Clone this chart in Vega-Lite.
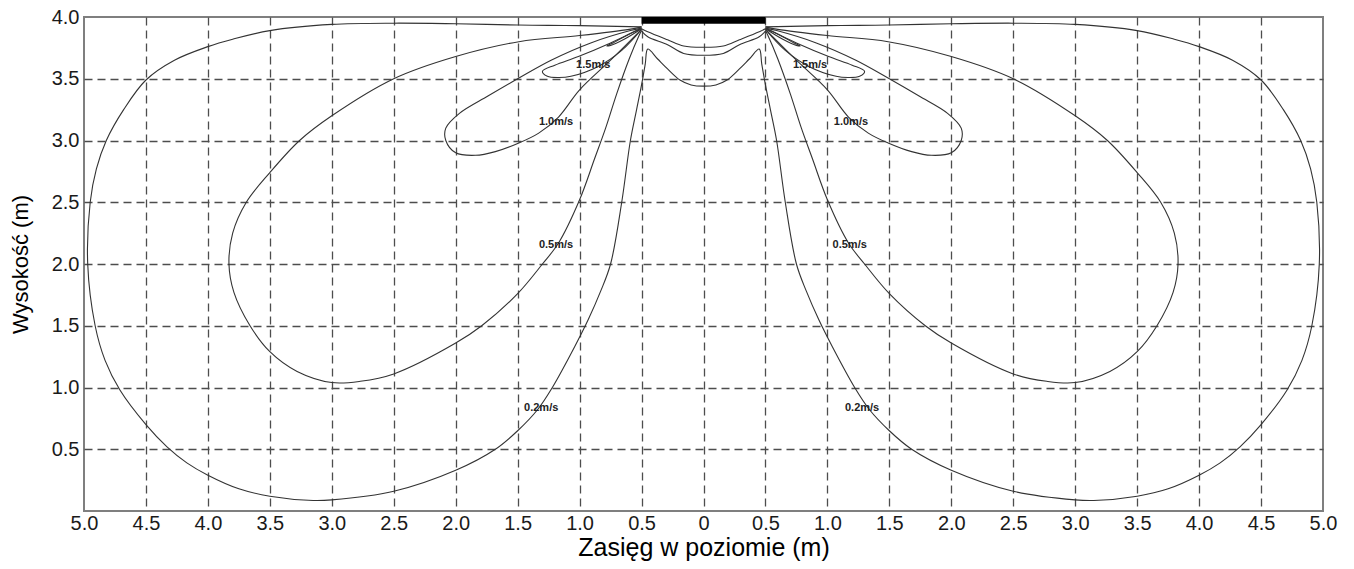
{
  "$schema": "https://vega.github.io/schema/vega-lite/v6.json",
  "width": 1239,
  "height": 494,
  "autosize": {"type": "none"},
  "padding": {"left": 84, "top": 17, "right": 31, "bottom": 58},
  "background": "white",
  "config": {
    "view": {"stroke": "#7f7f7f", "strokeWidth": 2},
    "font": "Liberation Sans"
  },
  "datasets": {
    "lines": [
      {"seg": "0.2", "o": 1, "x": -0.5, "y": 3.92},
      {"seg": "0.2", "o": 2, "x": -1.0, "y": 3.93},
      {"seg": "0.2", "o": 3, "x": -1.5, "y": 3.935},
      {"seg": "0.2", "o": 4, "x": -2.0, "y": 3.945},
      {"seg": "0.2", "o": 5, "x": -2.5, "y": 3.95},
      {"seg": "0.2", "o": 6, "x": -3.0, "y": 3.94},
      {"seg": "0.2", "o": 7, "x": -3.5, "y": 3.89},
      {"seg": "0.2", "o": 8, "x": -3.8, "y": 3.82},
      {"seg": "0.2", "o": 9, "x": -4.0, "y": 3.76},
      {"seg": "0.2", "o": 10, "x": -4.27, "y": 3.65},
      {"seg": "0.2", "o": 11, "x": -4.5, "y": 3.49},
      {"seg": "0.2", "o": 12, "x": -4.68, "y": 3.25},
      {"seg": "0.2", "o": 13, "x": -4.82, "y": 3.0},
      {"seg": "0.2", "o": 14, "x": -4.9, "y": 2.77},
      {"seg": "0.2", "o": 15, "x": -4.95, "y": 2.5},
      {"seg": "0.2", "o": 16, "x": -4.97, "y": 2.0},
      {"seg": "0.2", "o": 17, "x": -4.91, "y": 1.5},
      {"seg": "0.2", "o": 18, "x": -4.83, "y": 1.22},
      {"seg": "0.2", "o": 19, "x": -4.71, "y": 0.98},
      {"seg": "0.2", "o": 20, "x": -4.5, "y": 0.7},
      {"seg": "0.2", "o": 21, "x": -4.33, "y": 0.52},
      {"seg": "0.2", "o": 22, "x": -4.17, "y": 0.39},
      {"seg": "0.2", "o": 23, "x": -4.0, "y": 0.29},
      {"seg": "0.2", "o": 24, "x": -3.75, "y": 0.18},
      {"seg": "0.2", "o": 25, "x": -3.5, "y": 0.12},
      {"seg": "0.2", "o": 26, "x": -3.15, "y": 0.085},
      {"seg": "0.2", "o": 27, "x": -3.0, "y": 0.09},
      {"seg": "0.2", "o": 28, "x": -2.5, "y": 0.16},
      {"seg": "0.2", "o": 29, "x": -2.0, "y": 0.33},
      {"seg": "0.2", "o": 30, "x": -1.68, "y": 0.5},
      {"seg": "0.2", "o": 31, "x": -1.5, "y": 0.65},
      {"seg": "0.2", "o": 32, "x": -1.34, "y": 0.82},
      {"seg": "0.2", "o": 33, "x": -1.22, "y": 1.0},
      {"seg": "0.2", "o": 34, "x": -1.04, "y": 1.33},
      {"seg": "0.2", "o": 35, "x": -0.93, "y": 1.55},
      {"seg": "0.2", "o": 36, "x": -0.83, "y": 1.78},
      {"seg": "0.2", "o": 37, "x": -0.75, "y": 2.0},
      {"seg": "0.2", "o": 38, "x": -0.66, "y": 2.5},
      {"seg": "0.2", "o": 39, "x": -0.59, "y": 3.0},
      {"seg": "0.2", "o": 40, "x": -0.54, "y": 3.25},
      {"seg": "0.2", "o": 41, "x": -0.5, "y": 3.45},
      {"seg": "0.2", "o": 42, "x": -0.47, "y": 3.62},
      {"seg": "0.2", "o": 43, "x": -0.45, "y": 3.74},
      {"seg": "0.2", "o": 44, "x": -0.37, "y": 3.66},
      {"seg": "0.2", "o": 45, "x": -0.29, "y": 3.58},
      {"seg": "0.2", "o": 46, "x": -0.19, "y": 3.49},
      {"seg": "0.2", "o": 47, "x": -0.1, "y": 3.45},
      {"seg": "0.2", "o": 48, "x": 0, "y": 3.44},
      {"seg": "0.2", "o": 49, "x": 0.1, "y": 3.45},
      {"seg": "0.2", "o": 50, "x": 0.19, "y": 3.49},
      {"seg": "0.2", "o": 51, "x": 0.29, "y": 3.58},
      {"seg": "0.2", "o": 52, "x": 0.37, "y": 3.66},
      {"seg": "0.2", "o": 53, "x": 0.45, "y": 3.74},
      {"seg": "0.2", "o": 54, "x": 0.47, "y": 3.62},
      {"seg": "0.2", "o": 55, "x": 0.5, "y": 3.45},
      {"seg": "0.2", "o": 56, "x": 0.54, "y": 3.25},
      {"seg": "0.2", "o": 57, "x": 0.59, "y": 3.0},
      {"seg": "0.2", "o": 58, "x": 0.66, "y": 2.5},
      {"seg": "0.2", "o": 59, "x": 0.75, "y": 2.0},
      {"seg": "0.2", "o": 60, "x": 0.83, "y": 1.78},
      {"seg": "0.2", "o": 61, "x": 0.93, "y": 1.55},
      {"seg": "0.2", "o": 62, "x": 1.04, "y": 1.33},
      {"seg": "0.2", "o": 63, "x": 1.22, "y": 1.0},
      {"seg": "0.2", "o": 64, "x": 1.34, "y": 0.82},
      {"seg": "0.2", "o": 65, "x": 1.5, "y": 0.65},
      {"seg": "0.2", "o": 66, "x": 1.68, "y": 0.5},
      {"seg": "0.2", "o": 67, "x": 2.0, "y": 0.33},
      {"seg": "0.2", "o": 68, "x": 2.5, "y": 0.16},
      {"seg": "0.2", "o": 69, "x": 3.0, "y": 0.09},
      {"seg": "0.2", "o": 70, "x": 3.15, "y": 0.085},
      {"seg": "0.2", "o": 71, "x": 3.5, "y": 0.12},
      {"seg": "0.2", "o": 72, "x": 3.75, "y": 0.18},
      {"seg": "0.2", "o": 73, "x": 4.0, "y": 0.29},
      {"seg": "0.2", "o": 74, "x": 4.17, "y": 0.39},
      {"seg": "0.2", "o": 75, "x": 4.33, "y": 0.52},
      {"seg": "0.2", "o": 76, "x": 4.5, "y": 0.7},
      {"seg": "0.2", "o": 77, "x": 4.71, "y": 0.98},
      {"seg": "0.2", "o": 78, "x": 4.83, "y": 1.22},
      {"seg": "0.2", "o": 79, "x": 4.91, "y": 1.5},
      {"seg": "0.2", "o": 80, "x": 4.97, "y": 2.0},
      {"seg": "0.2", "o": 81, "x": 4.95, "y": 2.5},
      {"seg": "0.2", "o": 82, "x": 4.9, "y": 2.77},
      {"seg": "0.2", "o": 83, "x": 4.82, "y": 3.0},
      {"seg": "0.2", "o": 84, "x": 4.68, "y": 3.25},
      {"seg": "0.2", "o": 85, "x": 4.5, "y": 3.49},
      {"seg": "0.2", "o": 86, "x": 4.27, "y": 3.65},
      {"seg": "0.2", "o": 87, "x": 4.0, "y": 3.76},
      {"seg": "0.2", "o": 88, "x": 3.8, "y": 3.82},
      {"seg": "0.2", "o": 89, "x": 3.5, "y": 3.89},
      {"seg": "0.2", "o": 90, "x": 3.0, "y": 3.94},
      {"seg": "0.2", "o": 91, "x": 2.5, "y": 3.95},
      {"seg": "0.2", "o": 92, "x": 2.0, "y": 3.945},
      {"seg": "0.2", "o": 93, "x": 1.5, "y": 3.935},
      {"seg": "0.2", "o": 94, "x": 1.0, "y": 3.93},
      {"seg": "0.2", "o": 95, "x": 0.5, "y": 3.92},

      {"seg": "0.5L", "o": 1, "x": -0.5, "y": 3.92},
      {"seg": "0.5L", "o": 2, "x": -0.6, "y": 3.9},
      {"seg": "0.5L", "o": 3, "x": -1.0, "y": 3.85},
      {"seg": "0.5L", "o": 4, "x": -1.49, "y": 3.8},
      {"seg": "0.5L", "o": 5, "x": -2.0, "y": 3.68},
      {"seg": "0.5L", "o": 6, "x": -2.5, "y": 3.5},
      {"seg": "0.5L", "o": 7, "x": -3.0, "y": 3.2},
      {"seg": "0.5L", "o": 8, "x": -3.26, "y": 3.0},
      {"seg": "0.5L", "o": 9, "x": -3.5, "y": 2.74},
      {"seg": "0.5L", "o": 10, "x": -3.69, "y": 2.5},
      {"seg": "0.5L", "o": 11, "x": -3.8, "y": 2.25},
      {"seg": "0.5L", "o": 12, "x": -3.83, "y": 2.0},
      {"seg": "0.5L", "o": 13, "x": -3.79, "y": 1.77},
      {"seg": "0.5L", "o": 14, "x": -3.66, "y": 1.5},
      {"seg": "0.5L", "o": 15, "x": -3.5, "y": 1.29},
      {"seg": "0.5L", "o": 16, "x": -3.28, "y": 1.13},
      {"seg": "0.5L", "o": 17, "x": -3.0, "y": 1.04},
      {"seg": "0.5L", "o": 18, "x": -2.77, "y": 1.05},
      {"seg": "0.5L", "o": 19, "x": -2.5, "y": 1.11},
      {"seg": "0.5L", "o": 20, "x": -2.0, "y": 1.36},
      {"seg": "0.5L", "o": 21, "x": -1.79, "y": 1.5},
      {"seg": "0.5L", "o": 22, "x": -1.5, "y": 1.76},
      {"seg": "0.5L", "o": 23, "x": -1.3, "y": 2.0},
      {"seg": "0.5L", "o": 24, "x": -1.17, "y": 2.17},
      {"seg": "0.5L", "o": 25, "x": -1.0, "y": 2.52},
      {"seg": "0.5L", "o": 26, "x": -0.88, "y": 2.85},
      {"seg": "0.5L", "o": 27, "x": -0.79, "y": 3.1},
      {"seg": "0.5L", "o": 28, "x": -0.7, "y": 3.38},
      {"seg": "0.5L", "o": 29, "x": -0.6, "y": 3.66},
      {"seg": "0.5L", "o": 30, "x": -0.52, "y": 3.85},
      {"seg": "0.5L", "o": 31, "x": -0.5, "y": 3.89},

      {"seg": "0.5R", "o": 1, "x": 0.5, "y": 3.92},
      {"seg": "0.5R", "o": 2, "x": 0.6, "y": 3.9},
      {"seg": "0.5R", "o": 3, "x": 1.0, "y": 3.85},
      {"seg": "0.5R", "o": 4, "x": 1.49, "y": 3.8},
      {"seg": "0.5R", "o": 5, "x": 2.0, "y": 3.68},
      {"seg": "0.5R", "o": 6, "x": 2.5, "y": 3.5},
      {"seg": "0.5R", "o": 7, "x": 3.0, "y": 3.2},
      {"seg": "0.5R", "o": 8, "x": 3.26, "y": 3.0},
      {"seg": "0.5R", "o": 9, "x": 3.5, "y": 2.74},
      {"seg": "0.5R", "o": 10, "x": 3.69, "y": 2.5},
      {"seg": "0.5R", "o": 11, "x": 3.8, "y": 2.25},
      {"seg": "0.5R", "o": 12, "x": 3.83, "y": 2.0},
      {"seg": "0.5R", "o": 13, "x": 3.79, "y": 1.77},
      {"seg": "0.5R", "o": 14, "x": 3.66, "y": 1.5},
      {"seg": "0.5R", "o": 15, "x": 3.5, "y": 1.29},
      {"seg": "0.5R", "o": 16, "x": 3.28, "y": 1.13},
      {"seg": "0.5R", "o": 17, "x": 3.0, "y": 1.04},
      {"seg": "0.5R", "o": 18, "x": 2.77, "y": 1.05},
      {"seg": "0.5R", "o": 19, "x": 2.5, "y": 1.11},
      {"seg": "0.5R", "o": 20, "x": 2.0, "y": 1.36},
      {"seg": "0.5R", "o": 21, "x": 1.79, "y": 1.5},
      {"seg": "0.5R", "o": 22, "x": 1.5, "y": 1.76},
      {"seg": "0.5R", "o": 23, "x": 1.3, "y": 2.0},
      {"seg": "0.5R", "o": 24, "x": 1.17, "y": 2.17},
      {"seg": "0.5R", "o": 25, "x": 1.0, "y": 2.52},
      {"seg": "0.5R", "o": 26, "x": 0.88, "y": 2.85},
      {"seg": "0.5R", "o": 27, "x": 0.79, "y": 3.1},
      {"seg": "0.5R", "o": 28, "x": 0.7, "y": 3.38},
      {"seg": "0.5R", "o": 29, "x": 0.6, "y": 3.66},
      {"seg": "0.5R", "o": 30, "x": 0.52, "y": 3.85},
      {"seg": "0.5R", "o": 31, "x": 0.5, "y": 3.89},

      {"seg": "B", "o": 1, "x": -0.5, "y": 3.885},
      {"seg": "B", "o": 2, "x": -0.45, "y": 3.84},
      {"seg": "B", "o": 3, "x": -0.29, "y": 3.775},
      {"seg": "B", "o": 4, "x": -0.16, "y": 3.705},
      {"seg": "B", "o": 5, "x": 0, "y": 3.69},
      {"seg": "B", "o": 6, "x": 0.16, "y": 3.705},
      {"seg": "B", "o": 7, "x": 0.29, "y": 3.775},
      {"seg": "B", "o": 8, "x": 0.45, "y": 3.84},
      {"seg": "B", "o": 9, "x": 0.5, "y": 3.885},

      {"seg": "A", "o": 1, "x": -0.5, "y": 3.905},
      {"seg": "A", "o": 2, "x": -0.45, "y": 3.88},
      {"seg": "A", "o": 3, "x": -0.29, "y": 3.815},
      {"seg": "A", "o": 4, "x": -0.16, "y": 3.765},
      {"seg": "A", "o": 5, "x": 0, "y": 3.755},
      {"seg": "A", "o": 6, "x": 0.16, "y": 3.765},
      {"seg": "A", "o": 7, "x": 0.29, "y": 3.815},
      {"seg": "A", "o": 8, "x": 0.45, "y": 3.88},
      {"seg": "A", "o": 9, "x": 0.5, "y": 3.905},

      {"seg": "1.0L", "o": 1, "x": -0.5, "y": 3.9},
      {"seg": "1.0L", "o": 2, "x": -0.75, "y": 3.65},
      {"seg": "1.0L", "o": 3, "x": -1.0, "y": 3.41},
      {"seg": "1.0L", "o": 4, "x": -1.17, "y": 3.19},
      {"seg": "1.0L", "o": 5, "x": -1.33, "y": 3.06},
      {"seg": "1.0L", "o": 6, "x": -1.49, "y": 2.98},
      {"seg": "1.0L", "o": 7, "x": -1.68, "y": 2.91},
      {"seg": "1.0L", "o": 8, "x": -1.84, "y": 2.88},
      {"seg": "1.0L", "o": 9, "x": -2.0, "y": 2.9},
      {"seg": "1.0L", "o": 10, "x": -2.08, "y": 3.0},
      {"seg": "1.0L", "o": 11, "x": -2.08, "y": 3.1},
      {"seg": "1.0L", "o": 12, "x": -1.97, "y": 3.22},
      {"seg": "1.0L", "o": 13, "x": -1.74, "y": 3.36},
      {"seg": "1.0L", "o": 14, "x": -1.5, "y": 3.5},
      {"seg": "1.0L", "o": 15, "x": -1.23, "y": 3.65},
      {"seg": "1.0L", "o": 16, "x": -0.91, "y": 3.79},
      {"seg": "1.0L", "o": 17, "x": -0.59, "y": 3.89},
      {"seg": "1.0L", "o": 18, "x": -0.5, "y": 3.91},

      {"seg": "1.0R", "o": 1, "x": 0.5, "y": 3.9},
      {"seg": "1.0R", "o": 2, "x": 0.75, "y": 3.65},
      {"seg": "1.0R", "o": 3, "x": 1.0, "y": 3.41},
      {"seg": "1.0R", "o": 4, "x": 1.17, "y": 3.19},
      {"seg": "1.0R", "o": 5, "x": 1.33, "y": 3.06},
      {"seg": "1.0R", "o": 6, "x": 1.49, "y": 2.98},
      {"seg": "1.0R", "o": 7, "x": 1.68, "y": 2.91},
      {"seg": "1.0R", "o": 8, "x": 1.84, "y": 2.88},
      {"seg": "1.0R", "o": 9, "x": 2.0, "y": 2.9},
      {"seg": "1.0R", "o": 10, "x": 2.08, "y": 3.0},
      {"seg": "1.0R", "o": 11, "x": 2.08, "y": 3.1},
      {"seg": "1.0R", "o": 12, "x": 1.97, "y": 3.22},
      {"seg": "1.0R", "o": 13, "x": 1.74, "y": 3.36},
      {"seg": "1.0R", "o": 14, "x": 1.5, "y": 3.5},
      {"seg": "1.0R", "o": 15, "x": 1.23, "y": 3.65},
      {"seg": "1.0R", "o": 16, "x": 0.91, "y": 3.79},
      {"seg": "1.0R", "o": 17, "x": 0.59, "y": 3.89},
      {"seg": "1.0R", "o": 18, "x": 0.5, "y": 3.91},

      {"seg": "1.5L", "o": 1, "x": -0.5, "y": 3.9},
      {"seg": "1.5L", "o": 2, "x": -0.66, "y": 3.73},
      {"seg": "1.5L", "o": 3, "x": -0.85, "y": 3.6},
      {"seg": "1.5L", "o": 4, "x": -1.07, "y": 3.52},
      {"seg": "1.5L", "o": 5, "x": -1.17, "y": 3.51},
      {"seg": "1.5L", "o": 6, "x": -1.26, "y": 3.52},
      {"seg": "1.5L", "o": 7, "x": -1.3, "y": 3.56},
      {"seg": "1.5L", "o": 8, "x": -1.2, "y": 3.61},
      {"seg": "1.5L", "o": 9, "x": -1.01, "y": 3.68},
      {"seg": "1.5L", "o": 10, "x": -0.75, "y": 3.79},
      {"seg": "1.5L", "o": 11, "x": -0.56, "y": 3.88},
      {"seg": "1.5L", "o": 12, "x": -0.5, "y": 3.905},

      {"seg": "1.5R", "o": 1, "x": 0.5, "y": 3.9},
      {"seg": "1.5R", "o": 2, "x": 0.66, "y": 3.73},
      {"seg": "1.5R", "o": 3, "x": 0.85, "y": 3.6},
      {"seg": "1.5R", "o": 4, "x": 1.07, "y": 3.52},
      {"seg": "1.5R", "o": 5, "x": 1.17, "y": 3.51},
      {"seg": "1.5R", "o": 6, "x": 1.26, "y": 3.52},
      {"seg": "1.5R", "o": 7, "x": 1.3, "y": 3.56},
      {"seg": "1.5R", "o": 8, "x": 1.2, "y": 3.61},
      {"seg": "1.5R", "o": 9, "x": 1.01, "y": 3.68},
      {"seg": "1.5R", "o": 10, "x": 0.75, "y": 3.79},
      {"seg": "1.5R", "o": 11, "x": 0.56, "y": 3.88},
      {"seg": "1.5R", "o": 12, "x": 0.5, "y": 3.905},

      {"seg": "2.0L", "o": 1, "x": -0.5, "y": 3.905},
      {"seg": "2.0L", "o": 2, "x": -0.64, "y": 3.82},
      {"seg": "2.0L", "o": 3, "x": -0.75, "y": 3.77},
      {"seg": "2.0L", "o": 4, "x": -0.78, "y": 3.765},
      {"seg": "2.0L", "o": 5, "x": -0.74, "y": 3.785},
      {"seg": "2.0L", "o": 6, "x": -0.62, "y": 3.85},
      {"seg": "2.0L", "o": 7, "x": -0.5, "y": 3.91},

      {"seg": "2.0R", "o": 1, "x": 0.5, "y": 3.905},
      {"seg": "2.0R", "o": 2, "x": 0.64, "y": 3.82},
      {"seg": "2.0R", "o": 3, "x": 0.75, "y": 3.77},
      {"seg": "2.0R", "o": 4, "x": 0.78, "y": 3.765},
      {"seg": "2.0R", "o": 5, "x": 0.74, "y": 3.785},
      {"seg": "2.0R", "o": 6, "x": 0.62, "y": 3.85},
      {"seg": "2.0R", "o": 7, "x": 0.5, "y": 3.91}
    ],
    "bar": [
      {"x": -0.5, "x2": 0.5, "y": 3.945, "y2": 4.0}
    ],
    "labels": [
      {"x": -0.89, "y": 3.61, "t": "1.5m/s"},
      {"x": 0.86, "y": 3.61, "t": "1.5m/s"},
      {"x": -1.19, "y": 3.15, "t": "1.0m/s"},
      {"x": 1.19, "y": 3.15, "t": "1.0m/s"},
      {"x": -1.19, "y": 2.15, "t": "0.5m/s"},
      {"x": 1.18, "y": 2.15, "t": "0.5m/s"},
      {"x": -1.31, "y": 0.83, "t": "0.2m/s"},
      {"x": 1.28, "y": 0.83, "t": "0.2m/s"}
    ]
  },
  "encoding": {
    "x": {
      "field": "x",
      "type": "quantitative",
      "scale": {"domain": [-5, 5], "nice": false, "zero": false},
      "axis": {
        "title": "Zasięg w poziomie (m)",
        "values": [-5, -4.5, -4, -3.5, -3, -2.5, -2, -1.5, -1, -0.5, 0, 0.5, 1, 1.5, 2, 2.5, 3, 3.5, 4, 4.5, 5],
        "labelExpr": "datum.value == 0 ? '0' : format(abs(datum.value), '.1f')",
        "domain": false,
        "ticks": false,
        "grid": true,
        "gridColor": "#4d4d4d",
        "gridDash": [8, 5],
        "gridWidth": 1.3,
        "gridOpacity": {"condition": {"test": "abs(datum.value) == 5", "value": 0}, "value": 1},
        "labelFontSize": 20,
        "labelColor": "#1a1a1a",
        "labelPadding": 2,
        "labelFont": "Liberation Sans",
        "labelFlush": false,
        "titleFontSize": 25,
        "titleFontWeight": "normal",
        "titleColor": "#000000",
        "titleFont": "Liberation Sans",
        "titleBaseline": "alphabetic",
        "titleY": 44
      }
    },
    "y": {
      "field": "y",
      "type": "quantitative",
      "scale": {"domain": [0, 4], "nice": false, "zero": false},
      "axis": {
        "title": "Wysokość (m)",
        "values": [0.5, 1, 1.5, 2, 2.5, 3, 3.5, 4],
        "labelExpr": "format(datum.value, '.1f')",
        "domain": false,
        "ticks": false,
        "grid": true,
        "gridColor": "#4d4d4d",
        "gridDash": [8, 5],
        "gridWidth": 1.3,
        "gridOpacity": {"condition": {"test": "datum.value == 4", "value": 0}, "value": 1},
        "labelFontSize": 20,
        "labelColor": "#1a1a1a",
        "labelPadding": 5,
        "labelFont": "Liberation Sans",
        "labelFlush": false,
        "titleFontSize": 22,
        "titleFontWeight": "normal",
        "titleColor": "#000000",
        "titleFont": "Liberation Sans",
        "titleAngle": -90,
        "titleBaseline": "middle",
        "titleX": -64,
        "titleY": 247
      }
    }
  },
  "layer": [
    {
      "data": {"name": "lines"},
      "mark": {"type": "line", "interpolate": "catmull-rom", "stroke": "#333333", "strokeWidth": 1.1},
      "encoding": {
        "detail": {"field": "seg", "type": "nominal"},
        "order": {"field": "o", "type": "quantitative"}
      }
    },
    {
      "data": {"name": "bar"},
      "mark": {"type": "rect", "color": "#000000"},
      "encoding": {
        "x2": {"field": "x2"},
        "y2": {"field": "y2"}
      }
    },
    {
      "data": {"name": "labels"},
      "mark": {"type": "text", "fontWeight": "bold", "fontSize": 11, "font": "Liberation Sans", "color": "#222222", "align": "center", "baseline": "middle"},
      "encoding": {
        "text": {"field": "t", "type": "nominal"}
      }
    }
  ]
}
